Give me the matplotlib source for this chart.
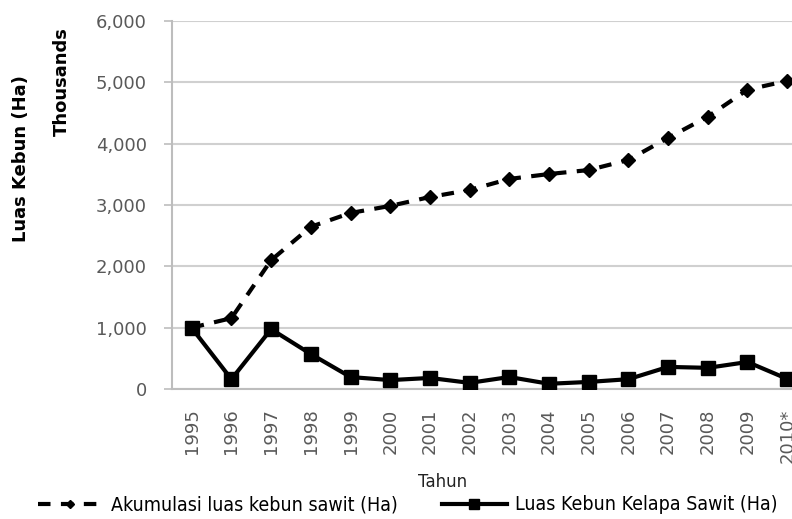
import matplotlib
matplotlib.use('Agg')
import matplotlib.pyplot as plt
from matplotlib.ticker import FuncFormatter

# data (Ha, in thousands on the axis)
tahun = ['1995', '1996', '1997', '1998', '1999', '2000', '2001', '2002',
         '2003', '2004', '2005', '2006', '2007', '2008', '2009', '2010*']
akumulasi = [1000, 1155, 2100, 2645, 2870, 2985, 3130, 3245,
             3425, 3505, 3570, 3735, 4095, 4440, 4880, 5025]
luas_kebun = [995, 160, 975, 570, 195, 145, 180, 100,
              195, 85, 115, 160, 360, 345, 440, 165]

grey = '#595959'

fig = plt.figure(figsize=(7.92, 5.19), dpi=100)
ax = fig.add_axes([0.217, 0.2505, 0.802, 0.709])

x = range(len(tahun))
ax.plot(x, akumulasi, color='black', lw=3, ls=(0, (3, 2.5)), marker='D',
        ms=7, label='Akumulasi luas kebun sawit (Ha)', zorder=3)
ax.plot(x, luas_kebun, color='black', lw=3, ls='-', marker='s',
        ms=10, label='Luas Kebun Kelapa Sawit (Ha)', zorder=4)

ax.set_xlim(-0.5, len(tahun) - 0.5)
ax.set_ylim(0, 6000)
ax.set_yticks(range(0, 6001, 1000))
ax.yaxis.set_major_formatter(FuncFormatter(lambda v, p: f'{int(v):,}'))
ax.set_xticks(list(x))
ax.set_xticklabels(tahun, rotation=90)
ax.grid(axis='y', color='#d0d0d0', lw=1.5)
ax.set_axisbelow(True)

for s in ['top', 'right']:
    ax.spines[s].set_visible(False)
ax.spines['left'].set_color('#bdbdbd')
ax.spines['left'].set_linewidth(1.5)
ax.spines['bottom'].set_color('#bdbdbd')
ax.spines['bottom'].set_linewidth(1.5)
ax.tick_params(axis='y', colors='#bdbdbd', labelcolor=grey, labelsize=13,
               length=6, width=1.2, pad=12)
ax.tick_params(axis='x', length=0, labelcolor=grey, labelsize=13, pad=14)

# axis title sits left of centre in the original (plot is cropped on the right)
fig.text(0.559, 0.071, 'Tahun', fontsize=12, color='#222222',
         ha='center', va='center')
fig.text(0.027, 0.695, 'Luas Kebun (Ha)', rotation=90, fontsize=13,
         fontweight='bold', ha='center', va='center')
fig.text(0.078, 0.842, 'Thousands', rotation=90, fontsize=13,
         fontweight='bold', ha='center', va='center')

leg = fig.legend(loc='center left', bbox_to_anchor=(0.048, 0.027), ncol=2,
                 frameon=False, handlelength=3.3, handletextpad=0.45,
                 columnspacing=2.3, borderaxespad=0, borderpad=0,
                 markerscale=0.65,
                 prop={'family': 'DejaVu Sans', 'stretch': 'condensed',
                       'size': 14})

fig.savefig('out.png', dpi=100)
